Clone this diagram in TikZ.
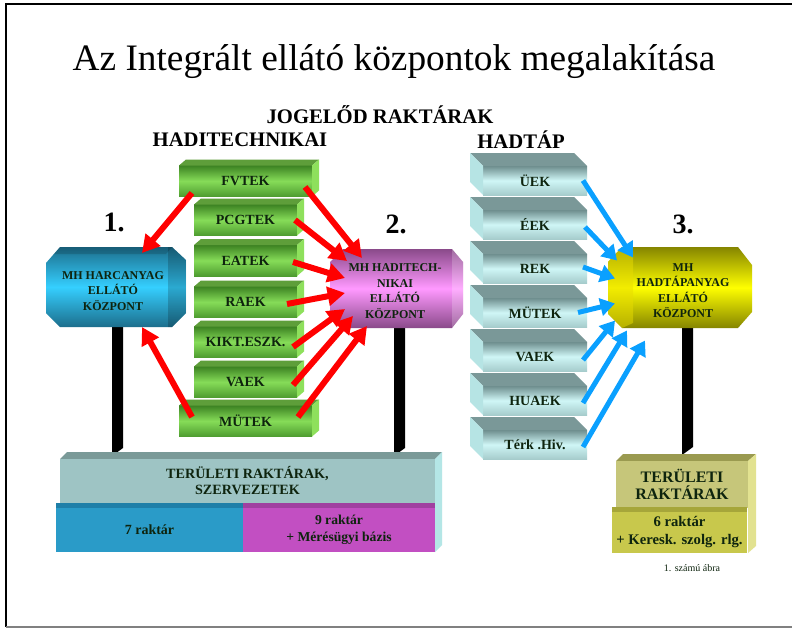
\documentclass[tikz,border=0pt]{standalone}
\usepackage{fontspec}
\setmainfont{Liberation Serif}
\usetikzlibrary{arrows.meta,calc}
\definecolor{gtopc}{HTML}{5E9E3A}
\definecolor{gsidec}{HTML}{8EE05C}
\definecolor{gdark}{HTML}{3C8222}
\definecolor{glight}{HTML}{86DC58}
\definecolor{gbot}{HTML}{4E9C30}
\definecolor{htopc}{HTML}{7A9898}
\definecolor{hsidec}{HTML}{B6E4E4}
\definecolor{hdark}{HTML}{6E8E8E}
\definecolor{hlight}{HTML}{CFF6F6}
\definecolor{hbot}{HTML}{A6CCCC}
\definecolor{txt}{HTML}{0E240E}
\definecolor{arrred}{HTML}{FF0000}
\definecolor{arrblue}{HTML}{0AA0FF}
\definecolor{bdark}{HTML}{1C6E8C}
\definecolor{blight}{HTML}{35CFFF}
\definecolor{pdark}{HTML}{8A4A8A}
\definecolor{plight}{HTML}{FF99FF}
\definecolor{ydark}{HTML}{858500}
\definecolor{ylight}{HTML}{FFFF00}
\definecolor{baseup}{HTML}{9EC4C4}
\definecolor{basetop}{HTML}{7A9A98}
\definecolor{baseside}{HTML}{B4E6E6}
\definecolor{baseblue}{HTML}{2A9BC8}
\definecolor{basebluetop}{HTML}{1F7FA8}
\definecolor{basepink}{HTML}{C24FC2}
\definecolor{basepinktop}{HTML}{A040A0}
\definecolor{ryup}{HTML}{C6C67A}
\definecolor{rytop}{HTML}{9A9A50}
\definecolor{ryside}{HTML}{E2E290}
\definecolor{rylow}{HTML}{C8C84C}
\definecolor{rylowtop}{HTML}{A6A63A}
\newcommand\gnbox[5]{%
  \node[gfront, minimum width=#4*0.75pt] (#1) at (#2,#3) {#5};
  \fill[gtopc] (#1.north west) -- ++(7,-6) -- ($(#1.north east)+(7,-6)$) -- (#1.north east) -- cycle;
  \fill[gsidec] (#1.north east) -- ++(7,-6) -- ($(#1.south east)+(7,-6)$) -- (#1.south east) -- cycle;
}
\newcommand\hdbox[4]{%
  \node[hfront] (#1) at (#2,#3) {#4};
  \fill[htopc] (#1.north west) -- ++(-13,-13) -- ($(#1.north east)+(-13,-13)$) -- (#1.north east) -- cycle;
  \fill[hsidec] (#1.north west) -- ++(-13,-13) -- ($(#1.south west)+(-13,-13)$) -- (#1.south west) -- cycle;
}
\begin{document}
\begin{tikzpicture}[x=0.75pt,y=-0.75pt,
  gfront/.style={rectangle, inner sep=0pt, outer sep=0pt, minimum height=31*0.75pt,
     top color=gdark, bottom color=gbot, middle color=glight,
     font=\fontsize{10.5}{12}\selectfont\bfseries, text=txt},
  hfront/.style={rectangle, inner sep=0pt, outer sep=0pt, minimum width=104*0.75pt, minimum height=29*0.75pt,
     top color=hdark, bottom color=hbot, middle color=hlight,
     font=\fontsize{10.5}{12}\selectfont\bfseries, text=txt},
  ctext/.style={align=center, inner sep=0pt, font=\fontsize{9}{11.6}\selectfont\bfseries, text=txt},
  head/.style={font=\fontsize{15.5}{18}\selectfont\bfseries},
  num/.style={font=\fontsize{21}{24}\selectfont\bfseries},
  btext/.style={align=center, inner sep=0pt, text=txt},
  redarrow/.style={draw=arrred, line width=4.5pt, -{Triangle[length=13pt,width=14pt]}},
  bluearrow/.style={draw=arrblue, line width=3.75pt, -{Triangle[length=11pt,width=13pt]}},
  pole/.style={fill=black}]
\useasboundingbox (0,0) rectangle (792,628);
\fill[white] (0,0) rectangle (792,628);
% frame
\draw[line width=1.5pt] (5,4) -- (792,4);
\draw[line width=1.5pt] (6,3) -- (6,627);
\draw[gray, line width=1pt] (6,627) -- (792,627);

% headings
\node[font=\fontsize{28}{32}\selectfont] (title) at (394,62) {Az Integrált ellátó központok megalakítása};
\node[head] (jog) at (380,115) {JOGELŐD RAKTÁRAK};
\node[head] (hadi) at (240,140) {HADITECHNIKAI};
\node[head] (hadt) at (521,140) {HADTÁP};

% poles
\fill[pole] (112,326) -- (123,326) -- (123,448) -- (112,456) -- cycle;
\fill[pole] (394,326) -- (405,326) -- (405,448) -- (394,456) -- cycle;
\fill[pole] (682,326) -- (693,326) -- (693,447) -- (682,455) -- cycle;

% left base
\fill[basetop] (60,459) -- (67,452) -- (442,452) -- (435,459) -- cycle;
\fill[baseside] (435,459) -- (442,452) -- (442,545) -- (435,552) -- cycle;
\node[btext, fill=baseup, minimum width=375*0.75pt, minimum height=44*0.75pt,
      font=\fontsize{10.6}{12}\selectfont\bfseries] (baseL) at (247.5,481) {TERÜLETI RAKTÁRAK,\\SZERVEZETEK};
\fill[basebluetop] (56,503) rectangle (243,508);
\fill[basepinktop] (243,503) rectangle (435,508);
\node[btext, fill=baseblue, minimum width=187*0.75pt, minimum height=44*0.75pt,
      font=\fontsize{10.5}{12}\selectfont\bfseries] (r7) at (149.5,530) {7 raktár};
\node[btext, fill=basepink, minimum width=192*0.75pt, minimum height=44*0.75pt,
      font=\fontsize{10.2}{12.75}\selectfont\bfseries] (r9) at (339,530) {9 raktár\\+ Mérésügyi bázis};

% right base
\fill[rytop] (616,461) -- (623,454) -- (756,454) -- (748,461) -- cycle;
\fill[ryside] (748,461) -- (756,454) -- (756,546) -- (748,553) -- cycle;
\node[btext, fill=ryup, minimum width=132*0.75pt, minimum height=47*0.75pt,
      font=\fontsize{12}{13}\selectfont\bfseries] (baseR) at (682,484.5) {TERÜLETI\\RAKTÁRAK};
\fill[rylowtop] (612,507) rectangle (747,512);
\node[btext, fill=rylow, minimum width=135*0.75pt, minimum height=41*0.75pt,
      font=\fontsize{11}{13.5}\selectfont\bfseries] (r6) at (679.5,532.5) {6 raktár\\+ Keresk. szolg. rlg.};
\node[font=\fontsize{7.5}{9}\selectfont, text=txt] (cap) at (692,568) {1. számú ábra};

% center boxes
\shade[top color=bdark, bottom color=bdark, middle color=blight]
  (46,263) -- (60,247) -- (172,247) -- (186,260) -- (186,313) -- (172,327) -- (60,327) -- (46,313) -- cycle;
\fill[black, opacity=0.18] (168,247) -- (172,247) -- (186,260) -- (186,313) -- (172,327) -- (168,327) -- (168,313) -- cycle;
\fill[black, opacity=0.15] (60,247) -- (172,247) -- (166,254) -- (54,254) -- cycle;
\node[ctext] (c1) at (113,291) {MH HARCANYAG\\ELLÁTÓ\\KÖZPONT};

\shade[top color=pdark, bottom color=pdark, middle color=plight]
  (330,262) -- (343,249) -- (452,249) -- (463,262) -- (463,314) -- (452,328) -- (343,328) -- (330,314) -- cycle;
\fill[white, opacity=0.2] (452,249) -- (463,262) -- (463,314) -- (452,328) -- cycle;
\node[ctext] (c2) at (395,291) {MH HADITECH-\\NIKAI\\ELLÁTÓ\\KÖZPONT};

\shade[top color=ydark, bottom color=ydark, middle color=ylight]
  (608,262) -- (622,247) -- (738,247) -- (752,265) -- (752,312) -- (738,328) -- (622,328) -- (608,314) -- cycle;
\fill[yellow!80!olive, opacity=0.5] (608,262) -- (622,247) -- (633,251) -- (633,323) -- (622,328) -- (608,314) -- cycle;
\node[ctext] (c3) at (683,290.5) {MH\\HADTÁPANYAG\\ELLÁTÓ\\KÖZPONT};

\node[num] (n1) at (114,222) {1.};
\node[num] (n2) at (396,224) {2.};
\node[num] (n3) at (683,224) {3.};

% green boxes
\gnbox{fvtek}{245.5}{181}{133}{FVTEK}
\gnbox{pcgtek}{245.5}{220}{103}{PCGTEK}
\gnbox{eatek}{245.5}{260.5}{103}{EATEK}
\gnbox{raek}{245.5}{302}{103}{RAEK}
\gnbox{kikt}{245.5}{342}{103}{KIKT.ESZK.}
\gnbox{vaek}{245.5}{382}{103}{VAEK}
\gnbox{mutek}{245.5}{421}{133}{MÜTEK}

% hadtap boxes
\hdbox{ueek}{535}{180.5}{ÜEK}
\hdbox{eeek}{535}{224.5}{ÉEK}
\hdbox{reek}{535}{268.5}{REK}
\hdbox{mutekb}{535}{312.5}{MÜTEK}
\hdbox{vaekb}{535}{356.5}{VAEK}
\hdbox{huaek}{535}{400.5}{HUAEK}
\hdbox{terk}{535}{444.5}{Térk .Hiv.}

% red arrows
\draw[redarrow] ($(fvtek)+(-53.5,12)$) -- ($(c1)+(29,-38)$);
\draw[redarrow] ($(mutek)+(-53.5,-4)$) -- ($(c1)+(29,36)$);
\draw[redarrow] ($(fvtek)+(59.5,6)$) -- ($(c2)+(-33,-33)$);
\draw[redarrow] ($(pcgtek)+(49.5,0)$) -- ($(c2)+(-48,-30)$);
\draw[redarrow] ($(eatek)+(47.5,1.5)$) -- ($(c2)+(-50,-13)$);
\draw[redarrow] ($(raek)+(41.5,2)$) -- ($(c2)+(-50,2)$);
\draw[redarrow] ($(kikt)+(47.5,5)$) -- ($(c2)+(-50,18)$);
\draw[redarrow] ($(vaek)+(47.5,3)$) -- ($(c2)+(-42,25)$);
\draw[redarrow] ($(mutek)+(52.5,-4)$) -- ($(c2)+(-28,35)$);

% blue arrows
\draw[bluearrow] ($(ueek)+(48,0)$) -- ($(c3)+(-50,-33)$);
\draw[bluearrow] ($(eeek)+(50,2.5)$) -- ($(c3)+(-66,-30)$);
\draw[bluearrow] ($(reek)+(48,-1.5)$) -- ($(c3)+(-68,-12)$);
\draw[bluearrow] ($(mutekb)+(43,0)$) -- ($(c3)+(-68,13)$);
\draw[bluearrow] ($(vaekb)+(48,3.5)$) -- ($(c3)+(-68,30)$);
\draw[bluearrow] ($(huaek)+(48,2.5)$) -- ($(c3)+(-56,40)$);
\draw[bluearrow] ($(terk)+(48,2.5)$) -- ($(c3)+(-38,50)$);
\end{tikzpicture}
\end{document}
